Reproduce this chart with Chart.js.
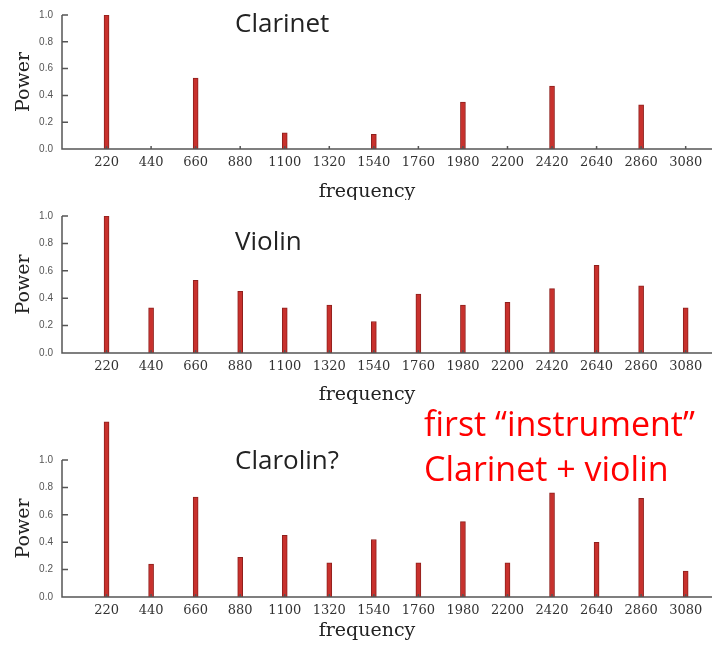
<!DOCTYPE html>
<html>
<head>
<meta charset="utf-8">
<script src="https://cdn.jsdelivr.net/npm/chart.js@4"></script>
<style>
html, body { margin: 0; padding: 0; background: #fff; }
#wrap { position: relative; width: 712px; height: 648px; overflow: hidden; }
canvas { position: absolute; left: 0; }
.name { position: absolute; left: 235px; font-family: "Open Sans"; font-size: 26px; line-height: 26px; color: #222; white-space: nowrap; }
.note { position: absolute; left: 424px; top: 401px; font-family: "Open Sans"; font-size: 34px; line-height: 45px; color: #ff0000; white-space: nowrap; }
</style>
</head>
<body>
<div id="wrap">
  <canvas id="c1" width="712" height="200" style="top:0"></canvas>
  <canvas id="c2" width="712" height="204" style="top:200px"></canvas>
  <canvas id="c3" width="712" height="244" style="top:404px"></canvas>
  <div class="name" style="top:9px">Clarinet</div>
  <div class="name" style="top:227px">Violin</div>
  <div class="name" style="top:446px">Clarolin?</div>
  <div class="note">first “instrument”<br>Clarinet + violin</div>
</div>
<script>
"use strict";

//harmonics of 220 Hz
const freqs = [220, 440, 660, 880, 1100, 1320, 1540, 1760, 1980, 2200, 2420, 2640, 2860, 3080];

//power (null = no peak)
const clarinet = [1.0, null, 0.53, null, 0.12, null, 0.11, null, 0.35, null, 0.47, null, 0.33, null];
const violin = [1.0, 0.33, 0.53, 0.45, 0.33, 0.35, 0.23, 0.43, 0.35, 0.37, 0.47, 0.64, 0.49, 0.33];
const clarolin = [1.28, 0.24, 0.73, 0.29, 0.45, 0.25, 0.42, 0.25, 0.55, 0.25, 0.76, 0.40, 0.72, 0.19];

//y tick labels
const powerTicks = [0, 0.2, 0.4, 0.6, 0.8, 1.0];

//axis lines, inward tick marks and axis titles
const decor = {
    id: 'decor',
    afterDraw(chart, args, opts) {
        const ctx = chart.ctx;
        const area = chart.chartArea;
        const xs = chart.scales.x;
        const ys = chart.scales.y;
        const y0 = ys.getPixelForValue(0);
        const yTop = ys.getPixelForValue(powerTicks[powerTicks.length - 1]);
        ctx.save();
        ctx.strokeStyle = '#555';
        ctx.lineWidth = 1.5;
        ctx.beginPath();
        ctx.moveTo(area.left, yTop);
        ctx.lineTo(area.left, y0);
        ctx.lineTo(area.right, y0);
        powerTicks.forEach(v => {
            const py = ys.getPixelForValue(v);
            ctx.moveTo(area.left, py);
            ctx.lineTo(area.left + 6, py);
        });
        freqs.forEach(f => {
            const px = xs.getPixelForValue(f);
            ctx.moveTo(px, y0);
            ctx.lineTo(px, y0 - 3);
        });
        ctx.stroke();

        ctx.fillStyle = '#222';
        ctx.font = '19px "DejaVu Serif"';
        ctx.textAlign = 'center';
        ctx.textBaseline = 'middle';
        ctx.fillText('frequency', opts.freqX, y0 + opts.freqGap);
        ctx.translate(24, ys.getPixelForValue(0.5));
        ctx.rotate(-Math.PI / 2);
        ctx.fillText('Power', 0, 0);
        ctx.restore();
    }
};

function makeChart(id, values, yMax, padTop, freqGap) {
    return new Chart(document.getElementById(id), {
        type: 'bar',
        data: {
            labels: freqs,
            datasets: [{
                data: values,
                backgroundColor: '#c8312d',
                borderColor: '#8f201d',
                borderWidth: 1,
                borderSkipped: 'start',
                barThickness: 5
            }]
        },
        options: {
            responsive: false,
            animation: false,
            layout: { padding: { top: padTop, right: 0, bottom: 0, left: 0 } },
            plugins: {
                legend: { display: false },
                tooltip: { enabled: false },
                decor: { freqX: 367, freqGap: freqGap }
            },
            scales: {
                x: {
                    type: 'linear',
                    offset: false,
                    min: 0,
                    max: 3210,
                    grid: { display: false, drawTicks: false },
                    border: { display: false },
                    afterBuildTicks: s => { s.ticks = freqs.map(v => ({ value: v })); },
                    afterFit: s => { s.height = 51; },
                    ticks: {
                        padding: 6,
                        color: '#333',
                        autoSkip: false,
                        maxRotation: 0,
                        font: { family: 'DejaVu Serif', size: 13 },
                        callback: v => String(v)
                    }
                },
                y: {
                    min: 0,
                    max: yMax,
                    grid: { display: false, drawTicks: false },
                    border: { display: false },
                    afterBuildTicks: s => { s.ticks = powerTicks.map(v => ({ value: v })); },
                    afterFit: s => { s.width = 62; },
                    ticks: {
                        padding: 9,
                        color: '#555',
                        font: { family: 'Liberation Sans', size: 10 },
                        callback: v => Number(v).toFixed(1)
                    }
                }
            }
        },
        plugins: [decor]
    });
}

makeChart('c1', clarinet, 1.0, 13, 43);
makeChart('c2', violin, 1.0, 16, 42);
makeChart('c3', clarolin, 1.3, 15, 34);
</script>
</body>
</html>
